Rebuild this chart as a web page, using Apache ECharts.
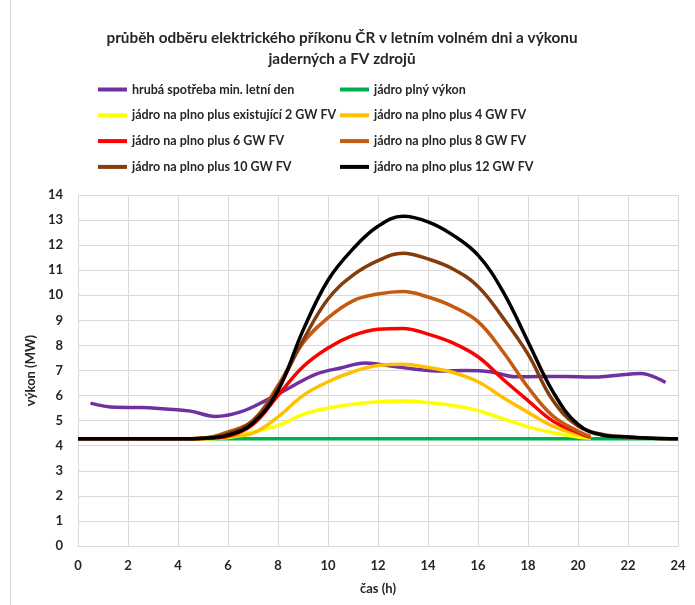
<!DOCTYPE html>
<html>
<head>
<meta charset="utf-8">
<script src="https://cdn.jsdelivr.net/npm/echarts@6/dist/echarts.min.js"></script>
<style>
  html, body { margin: 0; padding: 0; background: #fff; }
  #chart { width: 695px; height: 605px; }
</style>
</head>
<body>
<div id="chart"></div>
<script>
// time points (h)
const hoursHalf = [0.5, 1.5, 2.5, 3.5, 4.5, 5.5, 6.5, 7.5, 8.5, 9.5, 10.5, 11.5,
  12.5, 13.5, 14.5, 15.5, 16.5, 17.5, 18.5, 19.5, 20.5, 21.5, 22.5, 23.5];
const hoursFull = [0, 1, 2, 3, 4, 5, 6, 7, 8, 9, 10, 11, 12, 13, 14, 15, 16, 17, 18, 19, 20, 21, 22, 23, 24];
const hoursPV = [0, 1, 2, 3, 4, 5, 6, 7, 8, 9, 10, 11, 12, 13, 14, 15, 16, 17, 18, 19, 20, 20.5];

// výkon (MW)
const spotreba = [5.7, 5.53, 5.52, 5.46, 5.38, 5.17, 5.35, 5.8, 6.33, 6.85, 7.1, 7.3,
  7.18, 7.05, 6.98, 7.0, 6.95, 6.75, 6.76, 6.76, 6.74, 6.8, 6.88, 6.52];
const jadro = [4.28, 4.28, 4.28, 4.28, 4.28, 4.28, 4.28, 4.28, 4.28, 4.28, 4.28, 4.28, 4.28,
  4.28, 4.28, 4.28, 4.28, 4.28, 4.28, 4.28, 4.28, 4.28, 4.28, 4.28, 4.28];
const fv2 = [4.28, 4.28, 4.28, 4.28, 4.28, 4.28, 4.33, 4.55, 4.8, 5.25, 5.5, 5.65,
  5.75, 5.78, 5.72, 5.6, 5.4, 5.08, 4.75, 4.52, 4.35, 4.3];
const fv4 = [4.28, 4.28, 4.28, 4.28, 4.28, 4.28, 4.36, 4.5, 5.15, 6.0, 6.55, 6.95,
  7.2, 7.25, 7.12, 6.92, 6.55, 5.92, 5.33, 4.78, 4.45, 4.33];
const fv6 = [4.28, 4.28, 4.28, 4.28, 4.28, 4.29, 4.38, 4.85, 6.0, 7.15, 7.9, 8.4,
  8.65, 8.68, 8.45, 8.1, 7.55, 6.65, 5.8, 4.98, 4.52, 4.33];
const fv8 = [4.28, 4.28, 4.28, 4.28, 4.28, 4.3, 4.55, 5.0, 6.4, 8.1, 9.1, 9.78,
  10.05, 10.15, 9.93, 9.55, 8.95, 7.75, 6.33, 5.18, 4.58, 4.37];
const fv10 = [4.28, 4.28, 4.28, 4.28, 4.28, 4.3, 4.48, 5.0, 6.3, 8.2, 9.85, 10.8,
  11.38, 11.68, 11.45, 11.05, 10.35, 9.1, 7.65, 5.8, 4.78, 4.45, 4.35, 4.3, 4.28];
const fv12 = [4.28, 4.28, 4.28, 4.28, 4.28, 4.3, 4.42, 4.9, 6.2, 8.6, 10.6, 11.85,
  12.75, 13.15, 12.93, 12.4, 11.6, 10.15, 8.15, 6.15, 4.85, 4.42, 4.35, 4.3, 4.28];

const names = [
  'hrubá spotřeba min. letní den',
  'jádro plný výkon',
  'jádro na plno plus existující 2 GW FV',
  'jádro na plno plus 4 GW FV',
  'jádro na plno plus 6 GW FV',
  'jádro na plno plus 8 GW FV',
  'jádro na plno plus 10 GW FV',
  'jádro na plno plus 12 GW FV'
];
const colors = ['#7030A0', '#00B050', '#FFFF00', '#FFC000', '#FF0000', '#C55A11', '#843C0C', '#000000'];
const xs = [hoursHalf, hoursFull, hoursPV, hoursPV, hoursPV, hoursPV, hoursFull, hoursFull];
const ys = [spotreba, jadro, fv2, fv4, fv6, fv8, fv10, fv12];

const font = 'Lato, "Open Sans", sans-serif';
const txt = '#262626';

const series = names.map((n, i) => ({
  name: n,
  type: 'line',
  smooth: 0.4,
  symbol: 'none',
  color: colors[i],
  lineStyle: { width: 3.5, color: colors[i] },
  data: xs[i].map((h, j) => [h, ys[i][j]])
}));

const legendBase = {
  orient: 'vertical',
  icon: 'rect',
  padding: 0,
  itemWidth: 29,
  itemHeight: 4,
  itemGap: 10.8,
  textStyle: { fontFamily: font, fontWeight: 'bold', fontSize: 12.5, color: txt, lineHeight: 15 }
};

const chart = echarts.init(document.getElementById('chart'));
chart.setOption({
  animation: false,
  backgroundColor: '#fff',
  graphic: [{
    type: 'rect',
    shape: { x: 10.5, y: -10, width: 720, height: 630 },
    style: { fill: 'none', stroke: '#d9d9d9', lineWidth: 1 },
    silent: true
  }],
  title: {
    text: 'průběh odběru elektrického příkonu ČR v letním volném dni a výkonu\njaderných a FV zdrojů',
    left: 337,
    top: 23,
    textAlign: 'center',
    textStyle: { fontFamily: font, fontWeight: 'bold', fontSize: 15.3, color: txt, lineHeight: 21 }
  },
  legend: [
    Object.assign({}, legendBase, { left: 98, top: 82, data: [names[0], names[2], names[4], names[6]] }),
    Object.assign({}, legendBase, { left: 340, top: 82, data: [names[1], names[3], names[5], names[7]] })
  ],
  grid: { left: 78, top: 195, width: 600, height: 351, containLabel: false },
  xAxis: {
    type: 'value',
    min: 0,
    max: 24,
    interval: 2,
    name: 'čas (h)',
    nameLocation: 'middle',
    nameGap: 36,
    nameTextStyle: { fontFamily: font, fontWeight: 'bold', fontSize: 13, color: txt },
    axisLine: { show: true, lineStyle: { color: '#d9d9d9', width: 1 } },
    axisTick: { show: false },
    axisLabel: { fontFamily: font, fontWeight: 'bold', fontSize: 13, color: txt, margin: 13 },
    splitLine: { show: true, lineStyle: { color: '#d9d9d9', width: 1 } }
  },
  yAxis: {
    type: 'value',
    min: 0,
    max: 14,
    interval: 1,
    name: 'výkon (MW)',
    nameLocation: 'middle',
    nameGap: 39,
    nameTextStyle: { fontFamily: font, fontWeight: 'bold', fontSize: 13, color: txt },
    axisLine: { show: true, lineStyle: { color: '#d9d9d9', width: 1 } },
    axisTick: { show: false },
    axisLabel: { fontFamily: font, fontWeight: 'bold', fontSize: 13, color: txt, margin: 15 },
    splitLine: { show: true, lineStyle: { color: '#d9d9d9', width: 1 } }
  },
  series: series
});
</script>
</body>
</html>
